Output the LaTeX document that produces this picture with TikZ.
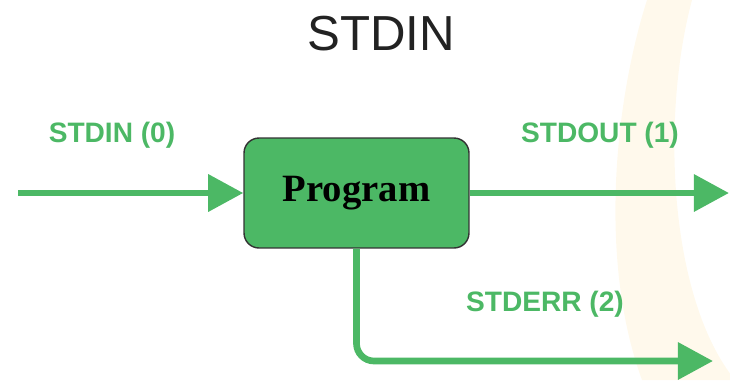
\documentclass[tikz,border=0pt]{standalone}
\usepackage{fontspec}
\setmainfont{Liberation Serif}
\setsansfont{Liberation Sans}
\usetikzlibrary{positioning, arrows.meta}
\usepackage{xcolor}
\definecolor{pipegreen}{RGB}{76,184,101}
\definecolor{titlegray}{RGB}{34,34,34}
\definecolor{wmark}{RGB}{255,249,236}

\begin{document}
\begin{tikzpicture}[x=0.02cm, y=-0.02cm]
                % Styles
                \tikzstyle{program} = [rectangle, rounded corners=0.3cm, minimum width=4.5cm, minimum height=2.2cm, text centered, draw=black!80, line width=0.8pt, fill=pipegreen, font=\fontsize{22}{24}\selectfont\bfseries]
                \tikzstyle{streamlabel} = [text=pipegreen, font=\sffamily\bfseries\fontsize{16}{18}\selectfont]
                \tikzstyle{heading} = [text=titlegray, font=\sffamily\fontsize{28}{30}\selectfont]
                \tikzstyle{pipe} = [pipegreen, line width=3.8pt, -{Triangle[length=20pt, width=20.5pt]}]

                \useasboundingbox (0,0) rectangle (730,380);

                % faint band in the back
                \fill[wmark] (647,0) .. controls (615,100) and (598,260) .. (642,380)
                    -- (735,380) .. controls (670,300) and (660,120) .. (692,0) -- cycle;

                % Nodes
                \node (title) [heading] at (381,34) {STDIN};
                \node (prog) [program] at (356.5,193) {Program};
                \coordinate (in) at (18,193);
                \coordinate (out) at (729,193);
                \coordinate (err) at (713,361);
                \node (inlabel) [streamlabel] at (112,135) {STDIN (0)};
                \node (outlabel) [streamlabel] at (600,135) {STDOUT (1)};
                \node (errlabel) [streamlabel] at (545,304) {STDERR (2)};

                % Paths
                \draw [pipe] (in) -- (prog);
                \draw [pipe] (prog) -- (out);
                \draw [pipe, rounded corners=0.35cm] (prog.south) |- (err);

            \end{tikzpicture}
\end{document}
